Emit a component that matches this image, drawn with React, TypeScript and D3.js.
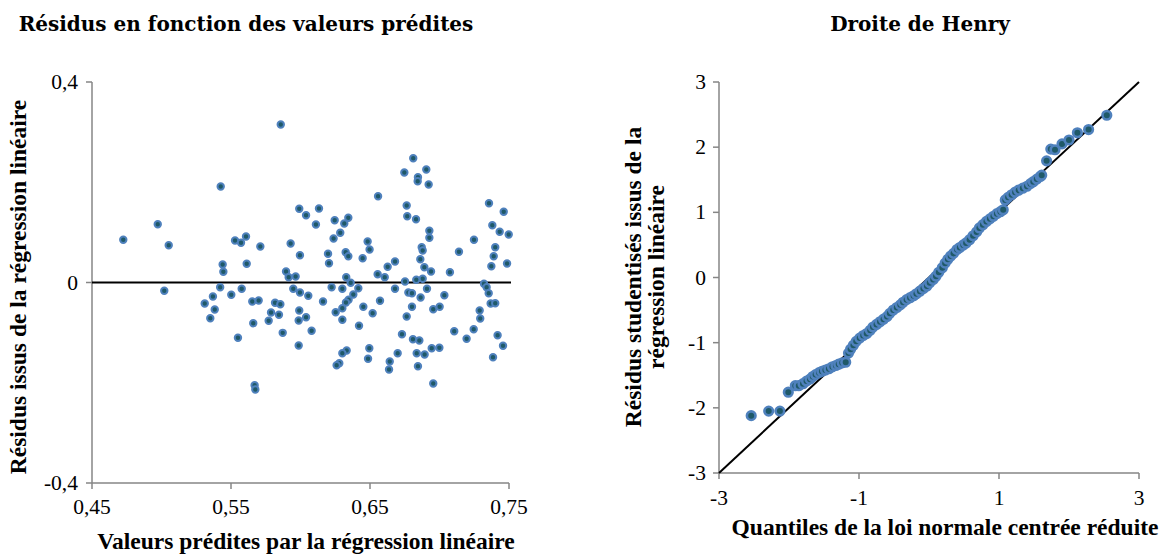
import React from 'react'
import * as d3 from 'd3'

// residuals vs fitted values
const fittedX = [
  0.4725, 0.4973, 0.5052, 0.5426, 0.5858, 0.5529, 0.5572, 0.5608, 0.5711, 0.5929,
  0.5991, 0.5996, 0.544, 0.5445, 0.5613, 0.5896, 0.5915, 0.5965, 0.502, 0.5422,
  0.5577, 0.5948, 0.5311, 0.537, 0.5383, 0.5351, 0.5502, 0.5653, 0.5699, 0.566,
  0.555, 0.5817, 0.5855, 0.5788, 0.5845, 0.5771, 0.5872, 0.567, 0.5675, 0.5991,
  0.5987, 0.5987, 0.6811, 0.6747, 0.6905, 0.6845, 0.6843, 0.6922, 0.6558, 0.6764,
  0.6768, 0.6831, 0.6927, 0.6927, 0.6872, 0.6879, 0.6862, 0.6891, 0.6939, 0.6879,
  0.6833, 0.6752, 0.604, 0.6133, 0.6111, 0.6246, 0.6344, 0.6315, 0.6286, 0.6238,
  0.6198, 0.6205, 0.6325, 0.6344, 0.6483, 0.6497, 0.6447, 0.668, 0.6627, 0.6555,
  0.6606, 0.6329, 0.6361, 0.6224, 0.6301, 0.6416, 0.668, 0.691, 0.7075, 0.714,
  0.7248, 0.7356, 0.7462, 0.738, 0.7433, 0.7498, 0.7401, 0.739, 0.7373, 0.7486,
  0.732, 0.7339, 0.5996, 0.6056, 0.604, 0.608, 0.6162, 0.638, 0.6346, 0.6327,
  0.6301, 0.6253, 0.6301, 0.6452, 0.6519, 0.6421, 0.6572, 0.6776, 0.6802, 0.6864,
  0.6802, 0.6764, 0.7035, 0.6955, 0.7001, 0.673, 0.6809, 0.6855, 0.6699, 0.6642,
  0.6637, 0.6495, 0.6486, 0.6332, 0.6301, 0.6279, 0.626, 0.6836, 0.6893, 0.6845,
  0.6944, 0.6999, 0.6955, 0.7106, 0.7195, 0.7246, 0.7289, 0.7293, 0.7354, 0.7368,
  0.7401, 0.7418, 0.7457, 0.7385
]
const residualY = [
  0.0852, 0.1163, 0.0744, 0.1915, 0.3152, 0.0838, 0.0792, 0.0918, 0.0718, 0.0778,
  0.147, 0.0545, 0.0359, 0.0213, 0.0373, 0.0219, 0.0106, 0.012, -0.0166, -0.0094,
  -0.0126, -0.0126, -0.0419, -0.0279, -0.0539, -0.0712, -0.0245, -0.0379, -0.0359, -0.0812,
  -0.1103, -0.0405, -0.0433, -0.0599, -0.0644, -0.0764, -0.1004, -0.2049, -0.2135, -0.0559,
  -0.0758, -0.1257, 0.248, 0.2195, 0.2254, 0.2101, 0.2021, 0.1955, 0.1722, 0.1536,
  0.1323, 0.1263, 0.1031, 0.0892, 0.0704, 0.0638, 0.0465, 0.0305, 0.0219, 0.0074,
  0.0054, 0.002, 0.1343, 0.1476, 0.1157, 0.1243, 0.1291, 0.1177, 0.0992, 0.0878,
  0.0573, 0.0385, 0.0604, 0.0525, 0.0818, 0.0658, 0.0485, 0.0419, 0.0313, 0.0166,
  0.0106, 0.0106, -0.0006, -0.0094, -0.0126, -0.0114, -0.0126, -0.0126, 0.0205, 0.0612,
  0.0852, 0.1582, 0.141, 0.1143, 0.1011, 0.0958, 0.0704, 0.0525, 0.0325, 0.0379,
  -0.0026, -0.0094, -0.02, -0.0265, -0.0692, -0.0964, -0.0379, -0.0239, -0.0345, -0.0399,
  -0.0513, -0.0593, -0.0744, -0.0485, -0.0612, -0.0864, -0.0365, -0.02, -0.0213, -0.0299,
  -0.0485, -0.0678, -0.0253, -0.0533, -0.0485, -0.1031, -0.1131, -0.1157, -0.141, -0.1576,
  -0.1736, -0.1311, -0.1522, -0.1357, -0.141, -0.161, -0.165, -0.141, -0.1436, -0.167,
  -0.1311, -0.1303, -0.2015, -0.0972, -0.1123, -0.0932, -0.0559, -0.0718, -0.0213, -0.0419,
  -0.0413, -0.1051, -0.1263, -0.149
]

// normal probability plot
const normalQuantiles = [
  -2.54, -2.29, -2.13, -2.01, -1.91, -1.86, -1.8, -1.75, -1.7, -1.66,
  -1.62, -1.57, -1.53, -1.48, -1.43, -1.38, -1.33, -1.29, -1.24, -1.19,
  -1.15, -1.12, -1.08, -1.04, -0.99, -0.94, -0.89, -0.84, -0.8, -0.75,
  -0.7, -0.65, -0.6, -0.56, -0.51, -0.46, -0.41, -0.37, -0.32, -0.27,
  -0.22, -0.18, -0.13, -0.08, -0.03, 0.01, 0.06, 0.1, 0.14, 0.19,
  0.23, 0.27, 0.31, 0.35, 0.4, 0.44, 0.49, 0.53, 0.58, 0.63,
  0.68, 0.72, 0.77, 0.82, 0.87, 0.92, 0.97, 1.02, 1.06, 1.09,
  1.13, 1.18, 1.23, 1.28, 1.34, 1.4, 1.45, 1.49, 1.54, 1.59,
  1.61, 1.68, 1.74, 1.8, 1.9, 2.0, 2.12, 2.28, 2.54
]
const studentized = [
  -2.12, -2.05, -2.05, -1.76, -1.66, -1.66, -1.63, -1.59, -1.56, -1.52,
  -1.49, -1.46, -1.44, -1.42, -1.40, -1.37, -1.35, -1.33, -1.31, -1.30,
  -1.16, -1.10, -1.04, -0.98, -0.93, -0.89, -0.86, -0.81, -0.76, -0.72,
  -0.68, -0.64, -0.60, -0.55, -0.50, -0.46, -0.42, -0.38, -0.34, -0.31,
  -0.28, -0.25, -0.21, -0.17, -0.13, -0.08, -0.03, 0.02, 0.08, 0.15,
  0.22, 0.28, 0.33, 0.37, 0.43, 0.46, 0.50, 0.53, 0.58, 0.64,
  0.70, 0.76, 0.81, 0.86, 0.90, 0.94, 0.98, 1.01, 1.04, 1.19,
  1.23, 1.27, 1.31, 1.34, 1.37, 1.40, 1.44, 1.47, 1.51, 1.55,
  1.57, 1.79, 1.97, 1.96, 2.05, 2.11, 2.22, 2.27, 2.49
]

const leftXTicks = [0.45, 0.55, 0.65, 0.75]
const leftXLabels = ['0,45', '0,55', '0,65', '0,75']
const leftYTicks = [0.4, 0, -0.4]
const leftYLabels = ['0,4', '0', '-0,4']
const rightXTicks = [-3, -1, 1, 3]
const rightYTicks = [3, 2, 1, 0, -1, -2, -3]
const refLine = [-3, 3]

const AXIS = '#868686'
const RING = '#4f81bd'
const CORE = '#1f5968'
const serif = '"Liberation Serif", "Times New Roman", serif'
const titleFont = '"DejaVu Serif", serif'
const TICK_FS = 21.5
const LABEL_FS = 23.5
const TITLE_FS = 20

export default function App() {
  const lx = d3.scaleLinear().domain([0.45, 0.75]).range([92, 509])
  const ly = d3.scaleLinear().domain([-0.4, 0.4]).range([483, 82])
  const rx = d3.scaleLinear().domain([-3, 3]).range([719, 1139])
  const ry = d3.scaleLinear().domain([-3, 3]).range([473, 82])

  const diag = d3.line<number>().x(d => rx(d)).y(d => ry(d))

  return (
    <svg width={1169} height={556} style={{ position: 'absolute', left: 0, top: 0, background: '#fff' }}>
      {/* left panel */}
      <text x={246} y={31} textAnchor="middle" fontFamily={titleFont} fontWeight="bold" fontSize={TITLE_FS}>
        Résidus en fonction des valeurs prédites
      </text>
      <line x1={lx(0.45)} x2={lx(0.45)} y1={ly(0.4)} y2={ly(-0.4)} stroke={AXIS} strokeWidth={1.5} />
      <line x1={lx(0.45)} x2={lx(0.75)} y1={ly(-0.4)} y2={ly(-0.4)} stroke={AXIS} strokeWidth={1.5} />
      {leftYTicks.map((t, i) => (
        <g key={'ly' + i}>
          <line x1={lx(0.45) - 6} x2={lx(0.45)} y1={ly(t)} y2={ly(t)} stroke={AXIS} strokeWidth={1.5} />
          <text x={78} y={ly(t) + 7} textAnchor="end" fontFamily={serif} fontSize={TICK_FS}>{leftYLabels[i]}</text>
        </g>
      ))}
      {leftXTicks.map((t, i) => (
        <g key={'lx' + i}>
          <line x1={lx(t)} x2={lx(t)} y1={ly(-0.4)} y2={ly(-0.4) + 6} stroke={AXIS} strokeWidth={1.5} />
          <text x={lx(t)} y={514} textAnchor="middle" fontFamily={serif} fontSize={TICK_FS}>{leftXLabels[i]}</text>
        </g>
      ))}
      <line x1={lx(0.45)} x2={lx(0.75) + 2} y1={ly(0)} y2={ly(0)} stroke="#000" strokeWidth={2.2} />
      {fittedX.map((v, i) => (
        <circle key={'lp' + i} cx={lx(v)} cy={ly(residualY[i])} r={3.2} fill={CORE} stroke={RING} strokeWidth={2} />
      ))}
      <text x={306} y={549} textAnchor="middle" fontFamily={serif} fontWeight="bold" fontSize={LABEL_FS}>
        Valeurs prédites par la régression linéaire
      </text>
      <text transform="translate(26,287) rotate(-90)" textAnchor="middle" fontFamily={serif} fontWeight="bold" fontSize={LABEL_FS}>
        Résidus issus de la régression linéaire
      </text>

      {/* right panel */}
      <text x={920} y={31} textAnchor="middle" fontFamily={titleFont} fontWeight="bold" fontSize={TITLE_FS}>
        Droite de Henry
      </text>
      <line x1={rx(-3)} x2={rx(-3)} y1={ry(3)} y2={ry(-3)} stroke={AXIS} strokeWidth={1.5} />
      <line x1={rx(-3)} x2={rx(3)} y1={ry(-3)} y2={ry(-3)} stroke={AXIS} strokeWidth={1.5} />
      {rightYTicks.map(t => (
        <g key={'ry' + t}>
          <line x1={rx(-3) - 6} x2={rx(-3)} y1={ry(t)} y2={ry(t)} stroke={AXIS} strokeWidth={1.5} />
          <text x={706} y={ry(t) + 7} textAnchor="end" fontFamily={serif} fontSize={TICK_FS}>{t}</text>
        </g>
      ))}
      {rightXTicks.map(t => (
        <g key={'rx' + t}>
          <line x1={rx(t)} x2={rx(t)} y1={ry(-3)} y2={ry(-3) + 6} stroke={AXIS} strokeWidth={1.5} />
          <text x={rx(t)} y={505} textAnchor="middle" fontFamily={serif} fontSize={TICK_FS}>{t}</text>
        </g>
      ))}
      <path d={diag(refLine) || ''} stroke="#000" strokeWidth={2} fill="none" />
      {normalQuantiles.map((q, i) => (
        <circle key={'rp' + i} cx={rx(q)} cy={ry(studentized[i])} r={4.3} fill={CORE} stroke={RING} strokeWidth={2.6} />
      ))}
      <text x={945} y={535} textAnchor="middle" fontFamily={serif} fontWeight="bold" fontSize={LABEL_FS}>
        Quantiles de la loi normale centrée réduite
      </text>
      <text transform="translate(641,277) rotate(-90)" textAnchor="middle" fontFamily={serif} fontWeight="bold" fontSize={LABEL_FS}>
        Résidus studentisés issus de la
      </text>
      <text transform="translate(664,277) rotate(-90)" textAnchor="middle" fontFamily={serif} fontWeight="bold" fontSize={LABEL_FS}>
        régression linéaire
      </text>
    </svg>
  )
}
